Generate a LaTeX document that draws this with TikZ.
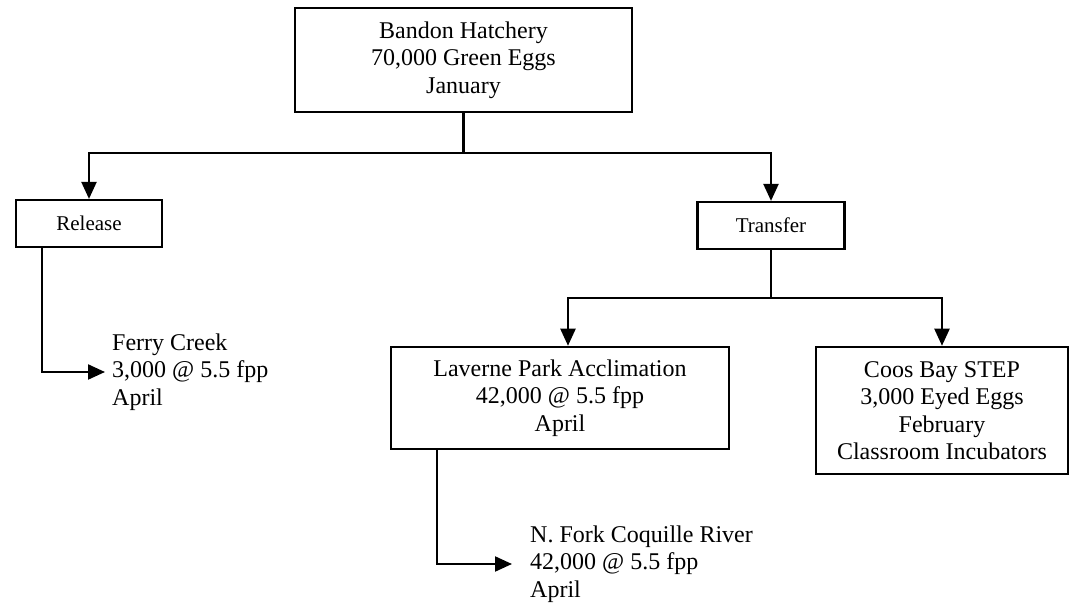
\documentclass[tikz,border=0pt]{standalone}
\usepackage{fontspec}
\setmainfont{Liberation Serif}
\usetikzlibrary{arrows.meta}
\begin{document}
\begin{tikzpicture}[x=1pt,y=-1pt,
  box/.style={draw, line width=2.5pt, align=center, inner sep=0pt, font=\fontsize{24}{27.5}\selectfont},
  smallbox/.style={draw, line width=2.2pt, align=center, inner sep=0pt, font=\fontsize{21}{24}\selectfont},
  plain/.style={align=left, inner sep=0pt, font=\fontsize{24}{27.5}\selectfont},
  link/.style={line width=2.2pt},
  arr/.style={line width=2.2pt, -{Triangle[length=17pt,width=15pt]}}]
\useasboundingbox (0,0) rectangle (1072,609);
\node[box, minimum width=337pt, minimum height=104pt] (hatch) at (463.5,60) {Bandon Hatchery\\70,000 Green Eggs\\January};
\node[smallbox, minimum width=146pt, minimum height=47pt] (release) at (89,223.5) {Release};
\node[smallbox, minimum width=147pt, minimum height=47pt] (transfer) at (771,225.5) {Transfer};
\node[box, minimum width=338pt, minimum height=102pt] (laverne) at (560,398) {Laverne Park Acclimation\\42,000 @ 5.5 fpp\\April};
\node[box, minimum width=252pt, minimum height=127pt] (coos) at (942,410.5) {Coos Bay STEP\\3,000 Eyed Eggs\\February\\Classroom Incubators};
\node[plain, anchor=west] (ferry) at (112,372) {Ferry Creek\\3,000 @ 5.5 fpp\\April};
\node[plain, anchor=west] (nfork) at (530,564) {N. Fork Coquille River\\42,000 @ 5.5 fpp\\April};
\coordinate (j1) at (463.5,153);
\coordinate (j2) at (771,298);
\draw[link] (hatch.south) -- (j1);
\draw[arr] (j1) -| (release.north);
\draw[arr] (j1) -| (transfer.north);
\draw[link] (transfer.south) -- (j2);
\draw[arr] (j2) -| ([xshift=8pt]laverne.north);
\draw[arr] (j2) -| (coos.north);
\draw[arr] ([xshift=27pt]release.south west) |- ([xshift=-7pt]ferry.west);
\draw[arr] ([xshift=47pt]laverne.south west) |- ([xshift=-18pt]nfork.west);
\end{tikzpicture}
\end{document}
